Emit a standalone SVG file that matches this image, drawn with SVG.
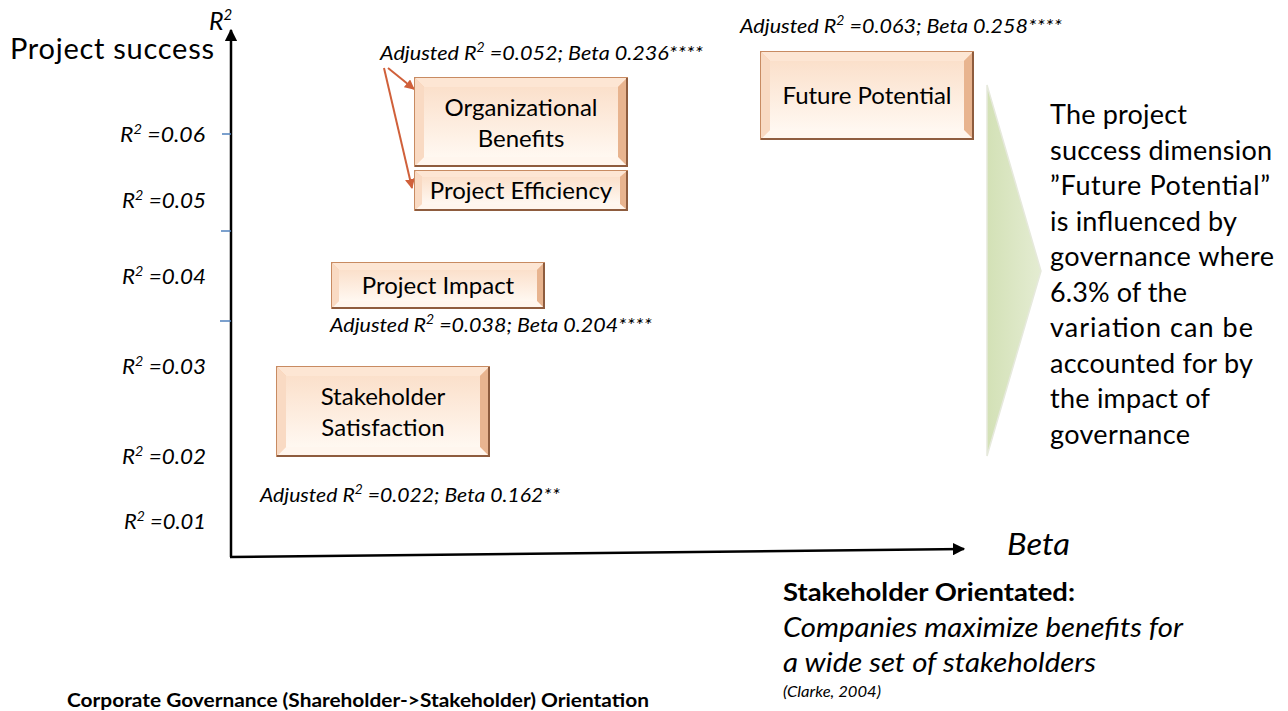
<svg xmlns="http://www.w3.org/2000/svg" width="1288" height="711" viewBox="0 0 1288 711">
<defs>
<linearGradient id="face" x1="0" y1="0" x2="0" y2="1">
<stop offset="0" stop-color="#fbe0cb"/>
<stop offset="1" stop-color="#fff8f1"/>
</linearGradient>
<linearGradient id="chev" x1="0" y1="0" x2="1" y2="0">
<stop offset="0" stop-color="#d3e1b6"/>
<stop offset="1" stop-color="#e4ecd2"/>
</linearGradient>
<marker id="blk" viewBox="0 0 10 10" refX="9" refY="5" markerWidth="5" markerHeight="5" orient="auto" markerUnits="strokeWidth">
<path d="M0,0 L10,5 L0,10 z" fill="#000"/>
</marker>
<marker id="red" viewBox="0 0 10 10" refX="9" refY="5" markerWidth="5" markerHeight="5" orient="auto" markerUnits="strokeWidth">
<path d="M0,0 L10,5 L0,10 z" fill="#d0603a"/>
</marker>
</defs>
<style>
text{font-family:Lato,"Open Sans","Liberation Sans",sans-serif;fill:#000}
.it{font-style:italic}
.ax{font-size:22px;font-style:italic}
.adj{font-size:20px;font-style:italic}
.box{font-size:24px;text-anchor:middle}
.side{font-size:27px}
.outer{fill:#f6c7a3;stroke:#c88b62;stroke-width:2}
.bt{fill:#fde6d4}
.bl{fill:#f9dac3}
.br{fill:#e8b48f}
.bb{fill:#fff6ee}
.in{fill:url(#face)}
.edge{fill:none;stroke:#8e5c3e;stroke-width:2}
.tick{stroke:#4f81bd;stroke-width:1.5}
</style>
<rect width="1288" height="711" fill="#fff"/>

<g id="axes">
<line x1="231" y1="557" x2="231" y2="30" stroke="#000" stroke-width="2.5" marker-end="url(#blk)"/>
<line x1="230" y1="557" x2="964" y2="549" stroke="#000" stroke-width="2.5" marker-end="url(#blk)"/>
<line class="tick" x1="222" y1="134" x2="231" y2="134"/>
<line class="tick" x1="221" y1="231" x2="231" y2="231"/>
<line class="tick" x1="220" y1="321" x2="231" y2="321"/>
</g>

<g id="axis-labels">
<text x="209" y="30" font-size="25" class="it">R<tspan font-size="15" dy="-10">2</tspan></text>
<text x="10" y="59" font-size="29" textLength="204">Project success</text>
<text x="1007" y="555" font-size="30" class="it" textLength="63" lengthAdjust="spacingAndGlyphs">Beta</text>
<text class="ax" x="120" y="142" textLength="85" lengthAdjust="spacingAndGlyphs">R<tspan font-size="14" dy="-8">2</tspan><tspan dy="8"> =0.06</tspan></text>
<text class="ax" x="122" y="208" textLength="84" lengthAdjust="spacingAndGlyphs">R<tspan font-size="14" dy="-8">2</tspan><tspan dy="8"> =0.05</tspan></text>
<text class="ax" x="122" y="284" textLength="84" lengthAdjust="spacingAndGlyphs">R<tspan font-size="14" dy="-8">2</tspan><tspan dy="8"> =0.04</tspan></text>
<text class="ax" x="122" y="374" textLength="84" lengthAdjust="spacingAndGlyphs">R<tspan font-size="14" dy="-8">2</tspan><tspan dy="8"> =0.03</tspan></text>
<text class="ax" x="122" y="464" textLength="84" lengthAdjust="spacingAndGlyphs">R<tspan font-size="14" dy="-8">2</tspan><tspan dy="8"> =0.02</tspan></text>
<text class="ax" x="124" y="529" textLength="82" lengthAdjust="spacingAndGlyphs">R<tspan font-size="14" dy="-8">2</tspan><tspan dy="8"> =0.01</tspan></text>
</g>

<g id="connectors">
<line x1="388" y1="68" x2="414" y2="89" stroke="#d0603a" stroke-width="2" marker-end="url(#red)"/>
<line x1="384" y1="68" x2="412" y2="188" stroke="#d0603a" stroke-width="2" marker-end="url(#red)"/>
</g>

<g id="node-organizational-benefits">
<rect class="outer" x="415" y="78" width="212" height="88"/>
<polygon class="bt" points="415,78 627,78 618,87 424,87"/>
<polygon class="bl" points="415,78 424,87 424,157 415,166"/>
<polygon class="br" points="627,78 627,166 618,157 618,87"/>
<polygon class="bb" points="415,166 627,166 618,157 424,157"/>
<rect class="in" x="424" y="87" width="194" height="70"/>
<polyline class="edge" points="627,78 627,166 415,166"/>
<text class="box" x="521" y="116">Organizational</text>
<text class="box" x="521" y="147">Benefits</text>
</g>

<g id="node-project-efficiency">
<rect class="outer" x="415" y="171" width="212" height="39"/>
<polygon class="bt" points="415,171 627,171 620,177 422,177"/>
<polygon class="bl" points="415,171 422,177 422,204 415,210"/>
<polygon class="br" points="627,171 627,210 620,204 620,177"/>
<polygon class="bb" points="415,210 627,210 620,204 422,204"/>
<rect class="in" x="422" y="177" width="198" height="27"/>
<polyline class="edge" points="627,171 627,210 415,210"/>
<text class="box" x="521" y="199">Project Efficiency</text>
</g>

<g id="node-future-potential">
<rect class="outer" x="761" y="52" width="212" height="87"/>
<polygon class="bt" points="761,52 973,52 964,61 770,61"/>
<polygon class="bl" points="761,52 770,61 770,130 761,139"/>
<polygon class="br" points="973,52 973,139 964,130 964,61"/>
<polygon class="bb" points="761,139 973,139 964,130 770,130"/>
<rect class="in" x="770" y="61" width="194" height="69"/>
<polyline class="edge" points="973,52 973,139 761,139"/>
<text class="box" x="867" y="104">Future Potential</text>
</g>

<g id="node-project-impact">
<rect class="outer" x="332" y="263" width="212" height="45"/>
<polygon class="bt" points="332,263 544,263 537,270 339,270"/>
<polygon class="bl" points="332,263 339,270 339,301 332,308"/>
<polygon class="br" points="544,263 544,308 537,301 537,270"/>
<polygon class="bb" points="332,308 544,308 537,301 339,301"/>
<rect class="in" x="339" y="270" width="198" height="31"/>
<polyline class="edge" points="544,263 544,308 332,308"/>
<text class="box" x="438" y="294">Project Impact</text>
</g>

<g id="node-stakeholder-satisfaction">
<rect class="outer" x="277" y="367" width="212" height="89"/>
<polygon class="bt" points="277,367 489,367 480,376 286,376"/>
<polygon class="bl" points="277,367 286,376 286,447 277,456"/>
<polygon class="br" points="489,367 489,456 480,447 480,376"/>
<polygon class="bb" points="277,456 489,456 480,447 286,447"/>
<rect class="in" x="286" y="376" width="194" height="71"/>
<polyline class="edge" points="489,367 489,456 277,456"/>
<text class="box" x="383" y="405">Stakeholder</text>
<text class="box" x="383" y="436">Satisfaction</text>
</g>

<g id="adjusted-labels">
<text class="adj" x="380" y="60" textLength="323" lengthAdjust="spacingAndGlyphs">Adjusted R<tspan font-size="13" dy="-8">2</tspan><tspan dy="8"> =0.052; Beta 0.236****</tspan></text>
<text class="adj" x="740" y="33" textLength="322" lengthAdjust="spacingAndGlyphs">Adjusted R<tspan font-size="13" dy="-8">2</tspan><tspan dy="8"> =0.063; Beta 0.258****</tspan></text>
<text class="adj" x="330" y="332" textLength="322" lengthAdjust="spacingAndGlyphs">Adjusted R<tspan font-size="13" dy="-8">2</tspan><tspan dy="8"> =0.038; Beta 0.204****</tspan></text>
<text class="adj" x="260" y="502" textLength="300" lengthAdjust="spacingAndGlyphs">Adjusted R<tspan font-size="13" dy="-8">2</tspan><tspan dy="8"> =0.022; Beta 0.162**</tspan></text>
</g>

<g id="chevron">
<polygon points="987,85 1041,271 987,456" fill="url(#chev)" stroke="#e6e9dc" stroke-width="1.5"/>
</g>

<g id="side-text">
<text class="side" x="1050" y="124" textLength="137">The project</text>
<text class="side" x="1050" y="160" textLength="222">success dimension</text>
<text class="side" x="1050" y="195" textLength="220">”Future Potential”</text>
<text class="side" x="1050" y="231" textLength="187">is influenced by</text>
<text class="side" x="1050" y="266" textLength="224">governance where</text>
<text class="side" x="1050" y="302" textLength="137">6.3% of the</text>
<text class="side" x="1050" y="337" textLength="203">variation can be</text>
<text class="side" x="1050" y="373" textLength="203">accounted for by</text>
<text class="side" x="1050" y="408" textLength="160">the impact of</text>
<text class="side" x="1050" y="444" textLength="140">governance</text>
</g>

<g id="bottom-text">
<text x="783" y="601" font-size="25" font-weight="bold" textLength="292" lengthAdjust="spacingAndGlyphs">Stakeholder Orientated:</text>
<text x="783" y="637" font-size="27" class="it" textLength="400" lengthAdjust="spacingAndGlyphs">Companies maximize benefits for</text>
<text x="783" y="672" font-size="27" class="it" textLength="313" lengthAdjust="spacingAndGlyphs">a wide set of stakeholders</text>
<text x="783" y="697" font-size="15" class="it" textLength="98" lengthAdjust="spacingAndGlyphs">(Clarke, 2004)</text>
<text x="67" y="707" font-size="18" font-weight="bold" textLength="582" lengthAdjust="spacingAndGlyphs">Corporate Governance (Shareholder-&gt;Stakeholder) Orientation</text>
</g>
</svg>
